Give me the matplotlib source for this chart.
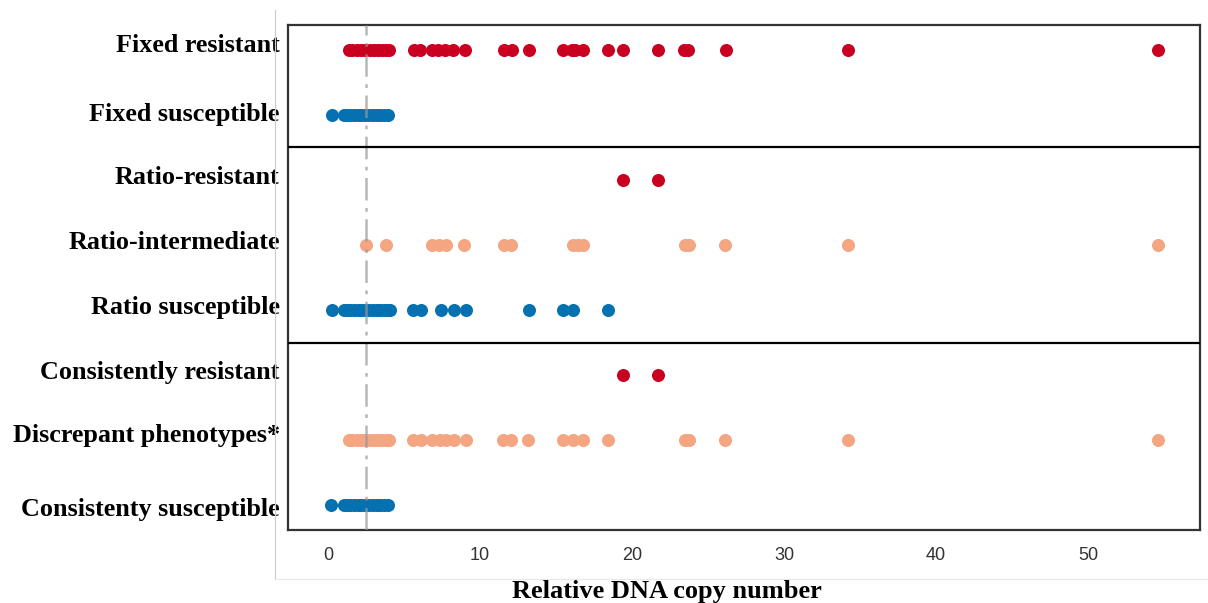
#!/usr/bin/env python
'''
Strip plot of relative DNA copy number for each phenotype call,
grouped into fixed, ratio and consistent cut-off blocks.
'''

import numpy as np
import matplotlib
matplotlib.use('Agg')
import matplotlib.pyplot as plt
from matplotlib.lines import Line2D
from matplotlib.transforms import ScaledTranslation

# Categories, top to bottom.
categories = ['Fixed resistant', 'Fixed susceptible', 'Ratio-resistant',
              'Ratio-intermediate', 'Ratio susceptible',
              'Consistently resistant', 'Discrepant phenotypes*',
              'Consistenty susceptible']

# Values.
fixed_resistant = [1.36, 1.6, 1.9, 2.2, 2.45, 2.75, 3.0, 3.3, 3.55, 3.8, 4.03,
                   5.68, 6.05, 6.82, 7.26, 7.7, 8.25, 9.0, 11.58, 12.09, 13.22,
                   15.48, 16.03, 16.25, 16.8, 18.4, 19.39, 21.73, 23.42, 23.7,
                   26.16, 34.2, 54.6]
fixed_susceptible = [0.24, 1.05, 1.25, 1.45, 1.7, 1.95, 2.2, 2.45, 2.7, 2.95,
                     3.2, 3.45, 3.7, 3.93]
ratio_resistant = [19.39, 21.73]
ratio_intermediate = [2.5, 3.8, 6.82, 7.32, 7.76, 8.97, 11.58, 12.04, 16.1,
                      16.43, 16.8, 23.49, 23.77, 26.15, 34.2, 54.6]
ratio_susceptible = [0.24, 1.04, 1.25, 1.45, 1.7, 1.95, 2.2, 2.45, 2.7, 2.95,
                     3.2, 3.45, 3.7, 3.9, 4.05, 5.6, 6.1, 7.43, 8.29, 9.06,
                     13.2, 15.44, 16.14, 18.4]
consistently_resistant = [19.39, 21.73]
discrepant = [1.38, 1.6, 1.9, 2.2, 2.45, 2.75, 3.0, 3.3, 3.55, 3.8, 4.03,
              5.6, 6.1, 6.82, 7.37, 7.74, 8.31, 9.06, 11.5, 12.04, 13.18,
              15.44, 16.14, 16.8, 18.4, 23.49, 23.77, 26.15, 34.2, 54.6]
consistently_susceptible = [0.2, 1.05, 1.25, 1.45, 1.7, 1.95, 2.2, 2.45, 2.7,
                            2.95, 3.2, 3.45, 3.7, 3.93]

series = [fixed_resistant, fixed_susceptible, ratio_resistant,
          ratio_intermediate, ratio_susceptible, consistently_resistant,
          discrepant, consistently_susceptible]

# RdBu-style colours.
red, salmon, blue = '#ca0020', '#f4a582', '#0571b0'
colors = [red, blue, red, salmon, blue, red, salmon, blue]

cutoff = 2.5
group_breaks = [1.5, 4.5]

fig = plt.figure(figsize=(12.08, 6.03), dpi=100)
ax = fig.add_axes([288/1208, 1-530/603, (1200-288)/1208, (530-25)/603])

for i, (vals, c) in enumerate(zip(series, colors)):
    ax.scatter(vals, np.full(len(vals), i), s=88, color=c, linewidths=0,
               zorder=2)

ax.axvline(cutoff, color='0.6', alpha=0.7, lw=1.8, ls=(0, (9, 3, 1.5, 3)),
           zorder=3)
for b in group_breaks:
    ax.axhline(b, color='black', lw=1.6, zorder=4)

ax.set_xlim(-2.63, 57.37)
ax.set_ylim(len(categories) - 1 + 0.384, -0.384)
ax.set_xticks([0, 10, 20, 30, 40, 50])
ax.set_yticks(range(len(categories)))
ax.set_yticklabels(categories, family='Liberation Serif', weight='bold',
                   fontsize=18.8, color='black')
for lab in ax.get_xticklabels():
    lab.set_family('Liberation Sans')
ax.tick_params(axis='x', length=0, pad=12, labelsize=13, labelcolor='0.2')
ax.tick_params(axis='y', length=0, pad=6)
# the category labels sit a little off their rows in the original (pixels up)
nudge = [7.3, 3.2, 5.2, 4.5, 5.3, 5.5, 6.7, -2.0]
for lab, dy in zip(ax.get_yticklabels(), nudge):
    off = ScaledTranslation(0, dy/100, fig.dpi_scale_trans)
    lab.set_transform(lab.get_transform() + off)

for sp in ax.spines.values():
    sp.set_color('#333333')
    sp.set_linewidth(1.6)

# faint outer frame
fig.add_artist(Line2D([275/1208, 275/1208], [1-579/603, 1-10/603],
                      transform=fig.transFigure, color='#cfcfcf', lw=0.9))
fig.add_artist(Line2D([275/1208, 1.0], [1-579/603, 1-579/603],
                      transform=fig.transFigure, color='#e8e8e8', lw=0.9))

fig.text(667/1208, 1-598/603, 'Relative DNA copy number', ha='center',
         va='baseline', family='Liberation Serif', weight='bold', fontsize=19)

fig.savefig('out.png', dpi=100)
